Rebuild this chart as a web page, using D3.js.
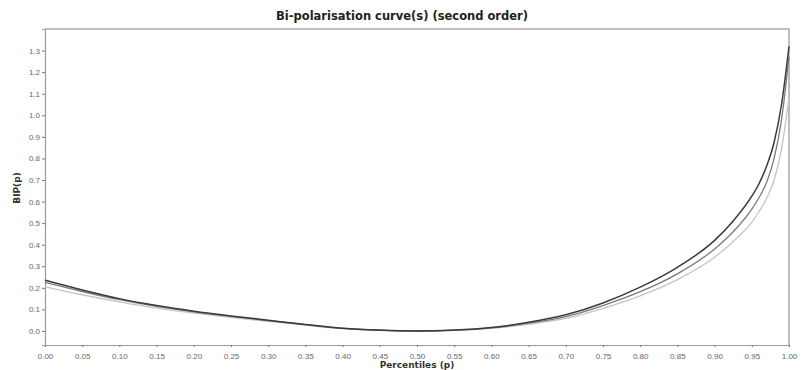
<!DOCTYPE html>
<html>
<head>
<meta charset="utf-8">
<script src="https://cdn.jsdelivr.net/npm/d3@7"></script>
<style>
  body { margin: 0; background: #fff; }
  svg { display: block; font-family: "DejaVu Sans", Verdana, sans-serif; }
</style>
</head>
<body>
<svg></svg>
<script>
let pValues = [0, 0.05, 0.10, 0.15, 0.20, 0.25, 0.30, 0.35, 0.40, 0.45, 0.50, 0.55, 0.60,
  0.65, 0.70, 0.75, 0.80, 0.85, 0.90, 0.925, 0.95, 0.96, 0.97, 0.98, 0.99, 1.0]

let darkCurve = [0.235, 0.19, 0.15, 0.118, 0.092, 0.07, 0.05, 0.03, 0.013, 0.004, 0.0, 0.004, 0.016,
  0.04, 0.075, 0.13, 0.203, 0.295, 0.42, 0.51, 0.625, 0.685, 0.765, 0.875, 1.05, 1.32]
let midCurve = [0.225, 0.183, 0.145, 0.114, 0.089, 0.068, 0.048, 0.029, 0.012, 0.003, 0.0, 0.003, 0.014,
  0.036, 0.067, 0.118, 0.182, 0.265, 0.38, 0.46, 0.565, 0.62, 0.69, 0.80, 0.98, 1.27]
let lightCurve = [0.205, 0.168, 0.135, 0.106, 0.083, 0.063, 0.045, 0.027, 0.011, 0.003, 0.0, 0.003, 0.012,
  0.031, 0.058, 0.105, 0.163, 0.238, 0.342, 0.415, 0.505, 0.555, 0.615, 0.70, 0.845, 1.08]

let xTicks = d3.range(0, 21).map(i => i * 0.05)
let yTicks = d3.range(0, 14).map(i => i * 0.1)

let width = 802
let height = 370
let plotLeft = 45
let plotRight = 789
let plotTop = 29
let plotBottom = 345

let svg = d3.select('svg')
  .attr('width', width)
  .attr('height', height)

let xScale = d3.scaleLinear().domain([0, 1]).range([plotLeft, plotRight])
let yScale = d3.scaleLinear().domain([-0.065, 1.40]).range([plotBottom, plotTop])

// frame (top + right)
svg.append('path')
  .attr('d', `M${plotLeft},${plotTop}H${plotRight}V${plotBottom}`)
  .attr('fill', 'none')
  .attr('stroke', '#aaa')
  .attr('stroke-width', 1.5)

let xAxis = d3.axisBottom(xScale)
  .tickValues(xTicks)
  .tickFormat(d3.format('.2f'))
  .tickSize(2)
  .tickPadding(6)

let yAxis = d3.axisLeft(yScale)
  .tickValues(yTicks)
  .tickFormat(d3.format('.1f'))
  .tickSize(3)
  .tickPadding(2)

let gx = svg.append('g')
  .attr('transform', 'translate(0,' + plotBottom + ')')
  .call(xAxis)
let gy = svg.append('g')
  .attr('transform', 'translate(' + plotLeft + ',0)')
  .call(yAxis)

;[gx, gy].forEach(g => {
  g.select('.domain').attr('stroke', '#999').attr('stroke-width', 1.2)
  g.selectAll('.tick line').attr('stroke', '#777')
  g.selectAll('.tick text')
    .attr('fill', '#666')
    .style('font-size', '8px')
    .style('font-family', '"Liberation Sans", Arial, sans-serif')
})

let series = [
  { values: lightCurve, color: '#c4c4c4', w: 1.3 },
  { values: midCurve, color: '#7a7a7a', w: 1.3 },
  { values: darkCurve, color: '#3a3a3a', w: 1.5 }
]

let line = d3.line()
  .x(d => xScale(d[0]))
  .y(d => yScale(d[1]))
  .curve(d3.curveMonotoneX)

series.forEach(s => {
  svg.append('path')
    .datum(pValues.map((p, i) => [p, s.values[i]]))
    .attr('d', line)
    .attr('fill', 'none')
    .attr('stroke', s.color)
    .attr('stroke-width', s.w)
})

svg.append('text')
  .attr('x', 402)
  .attr('y', 20)
  .attr('text-anchor', 'middle')
  .style('font-size', '11.5px')
  .style('font-weight', 'bold')
  .attr('fill', '#222')
  .text('Bi-polarisation curve(s) (second order)')

svg.append('text')
  .attr('x', 417)
  .attr('y', 368)
  .attr('text-anchor', 'middle')
  .style('font-size', '9px')
  .style('font-weight', 'bold')
  .attr('fill', '#333')
  .text('Percentiles (p)')

svg.append('text')
  .attr('transform', 'translate(20,188) rotate(-90)')
  .attr('text-anchor', 'middle')
  .style('font-size', '9px')
  .style('font-weight', 'bold')
  .attr('fill', '#333')
  .text('BIP(p)')
</script>
</body>
</html>
